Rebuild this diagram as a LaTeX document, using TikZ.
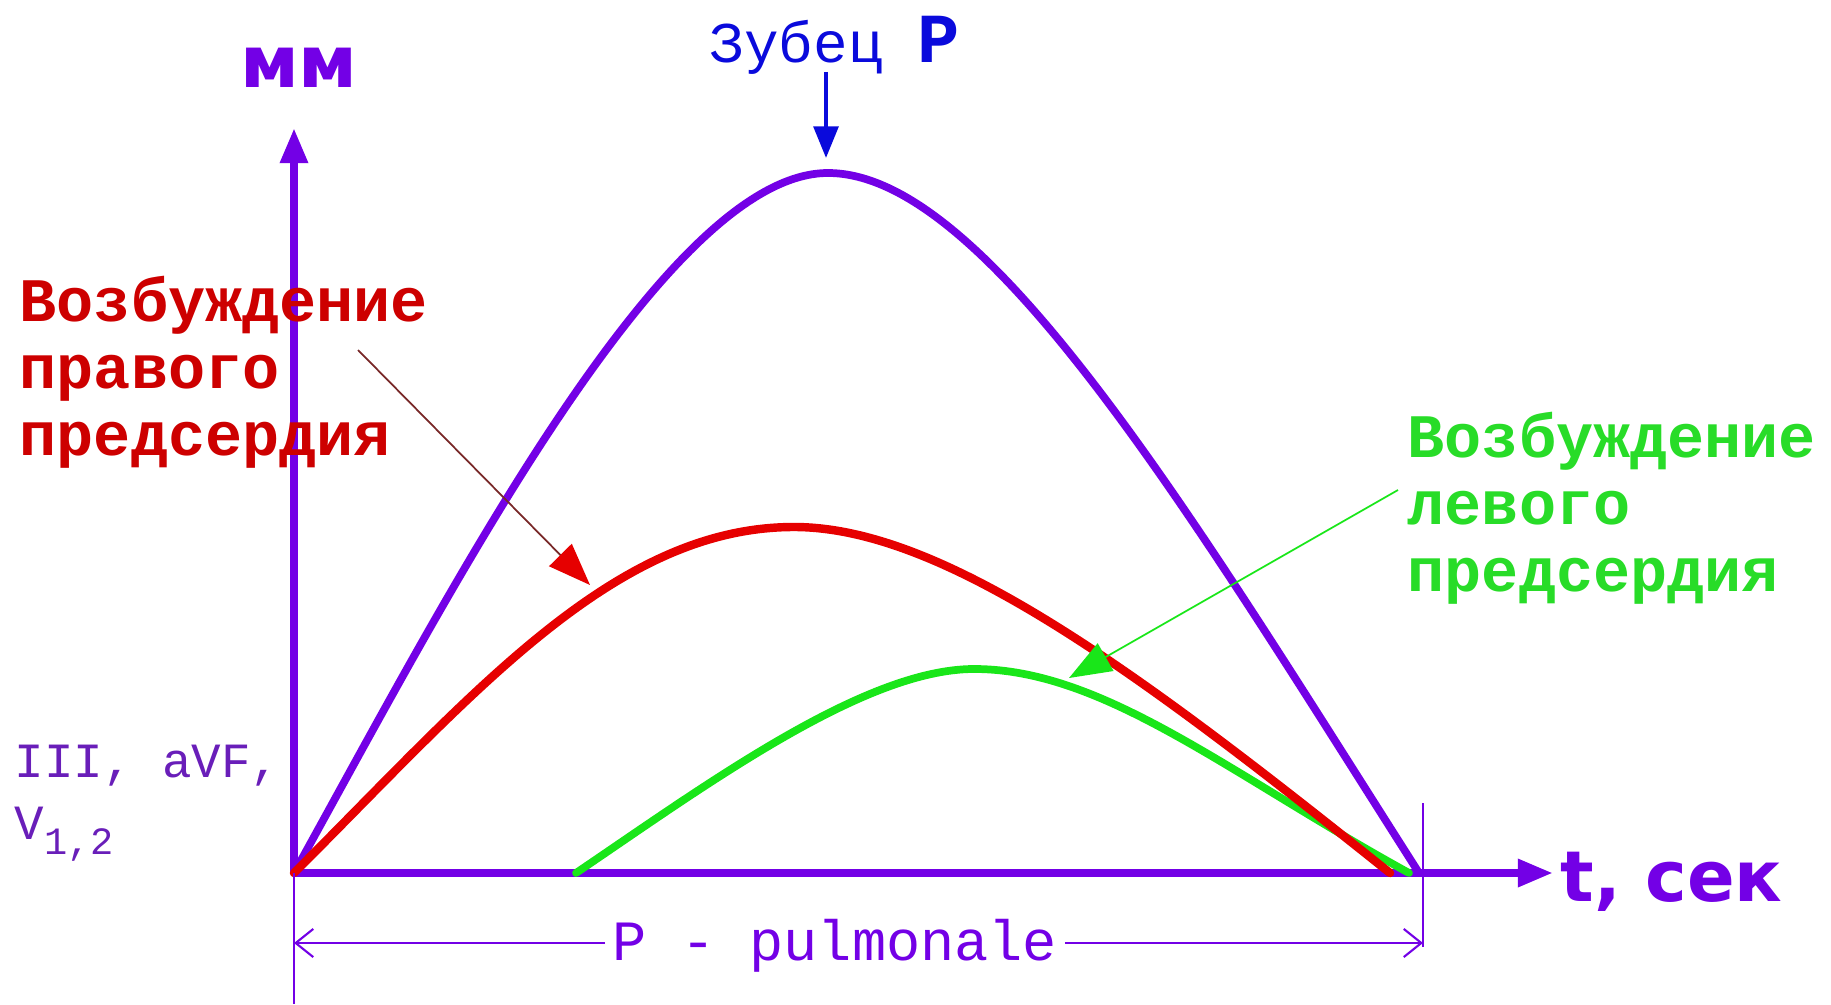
\documentclass[tikz,border=0pt]{standalone}
\usepackage{fontspec}
\usetikzlibrary{arrows.meta}
\newfontfamily\courfont{Liberation Mono}
\newfontfamily\verdfont{DejaVu Sans}
\definecolor{axviolet}{RGB}{115,0,230}
\definecolor{leadviolet}{RGB}{105,30,185}
\definecolor{curvered}{RGB}{230,0,0}
\definecolor{textred}{RGB}{205,0,0}
\definecolor{darkred}{RGB}{120,40,40}
\definecolor{curvegreen}{RGB}{25,230,25}
\definecolor{textgreen}{RGB}{40,220,40}
\definecolor{wavblue}{RGB}{10,10,220}

\begin{document}
\begin{tikzpicture}[
  axis/.style={line width=2.3pt, axviolet, -{Triangle[length=10pt,width=7.5pt]}},
  wave/.style={line width=2.2pt, line cap=round, line join=round},
  callout/.style={line width=0.5pt, -{Triangle[length=12pt,width=9pt]}},
  dimline/.style={line width=0.6pt, axviolet, -{Straight Barb[length=5pt,width=8pt]}},
  lbl/.style={inner sep=0pt, align=left, font=\courfont\bfseries\fontsize{17.6}{19}\selectfont},
  ]
  \useasboundingbox (-2.94,-1.31) rectangle (15.37,8.73);

  % Axes
  \coordinate (O) at (0,0);
  \coordinate (ytop) at (0,7.45);
  \coordinate (xend) at (12.59,0);
  \draw[axis] (O) -- (ytop);
  \draw[axis] (O) -- (xend);
  \node[anchor=base, inner sep=0pt, text=axviolet,
        font=\verdfont\bfseries\fontsize{20.5}{24}\selectfont] (mm) at (0.05,7.85) {мм};
  \node[anchor=base west, inner sep=0pt, text=axviolet,
        font=\verdfont\bfseries\fontsize{20}{24}\selectfont] (tsec) at (12.66,-0.28) {t, сек};

  % Leads
  \node[anchor=base west, inner sep=0pt, align=left, text=leadviolet,
        font=\courfont\fontsize{14}{17.6}\selectfont] (leads) at (-2.80,0.34)
        {III, aVF,\\V\raisebox{-0.6ex}{\fontsize{11}{12}\selectfont 1,2}};

  % P waves
  \draw[wave, axviolet] (O) .. controls (1.5,2.7) and (3.7,7.0) .. (5.34,7.0)
    .. controls (6.94,7.0) and (9.02,3.5) .. (11.25,0);
  \draw[wave, curvegreen] (2.82,0) .. controls (4.12,0.88) and (5.7,2.04) .. (6.8,2.04)
    .. controls (8.1,2.04) and (9.35,0.99) .. (11.15,0);
  \draw[wave, curvered, line width=2.4pt] (O) .. controls (1.8,1.8) and (3.2,3.46) .. (5.0,3.46)
    .. controls (6.5,3.46) and (8.46,2.0) .. (10.96,0);

  % Wave label
  \node[anchor=base west, inner sep=0pt, text=wavblue,
        font=\courfont\fontsize{16.4}{18}\selectfont] (zub) at (4.15,8.10)
        {Зубец {\bfseries\fontsize{20}{22}\selectfont P}};
  \coordinate (ztop) at (5.32,8.01);
  \coordinate (ztip) at (5.32,7.15);
  \draw[wavblue, line width=1.2pt, -{Triangle[length=9pt,width=7pt]}] (ztop) -- (ztip);

  % Right atrium
  \node[lbl, anchor=base west, text=textred] (right) at (-2.75,4.18)
        {Возбуждение\\правого\\предсердия};
  \coordinate (rstart) at (0.64,5.23);
  \coordinate (rtip) at (2.96,2.88);
  \draw[callout, darkred, -{Triangle[length=12pt,width=9pt,color=curvered]}] (rstart) -- (rtip);

  % Left atrium
  \node[lbl, anchor=base west, text=textgreen] (left) at (11.13,2.82)
        {Возбуждение\\левого\\предсердия};
  \coordinate (gstart) at (11.04,3.83);
  \coordinate (gtip) at (7.75,1.95);
  \draw[callout, curvegreen] (gstart) -- (gtip);

  % Duration
  \coordinate (dimL) at (0,-0.70);
  \coordinate (dimR) at (11.29,-0.70);
  \draw[line width=0.6pt, axviolet] (O) -- (0,-1.31);
  \draw[line width=0.6pt, axviolet] (11.29,0.70) -- (11.29,-0.74);
  \node[anchor=base, inner sep=2pt, text=axviolet,
        font=\courfont\fontsize{16.2}{18}\selectfont] (pul) at (5.41,-0.87) {P - pulmonale};
  \draw[dimline] (pul.west |- dimL) -- (dimL);
  \draw[dimline] (pul.east |- dimR) -- (dimR);
\end{tikzpicture}
\end{document}
